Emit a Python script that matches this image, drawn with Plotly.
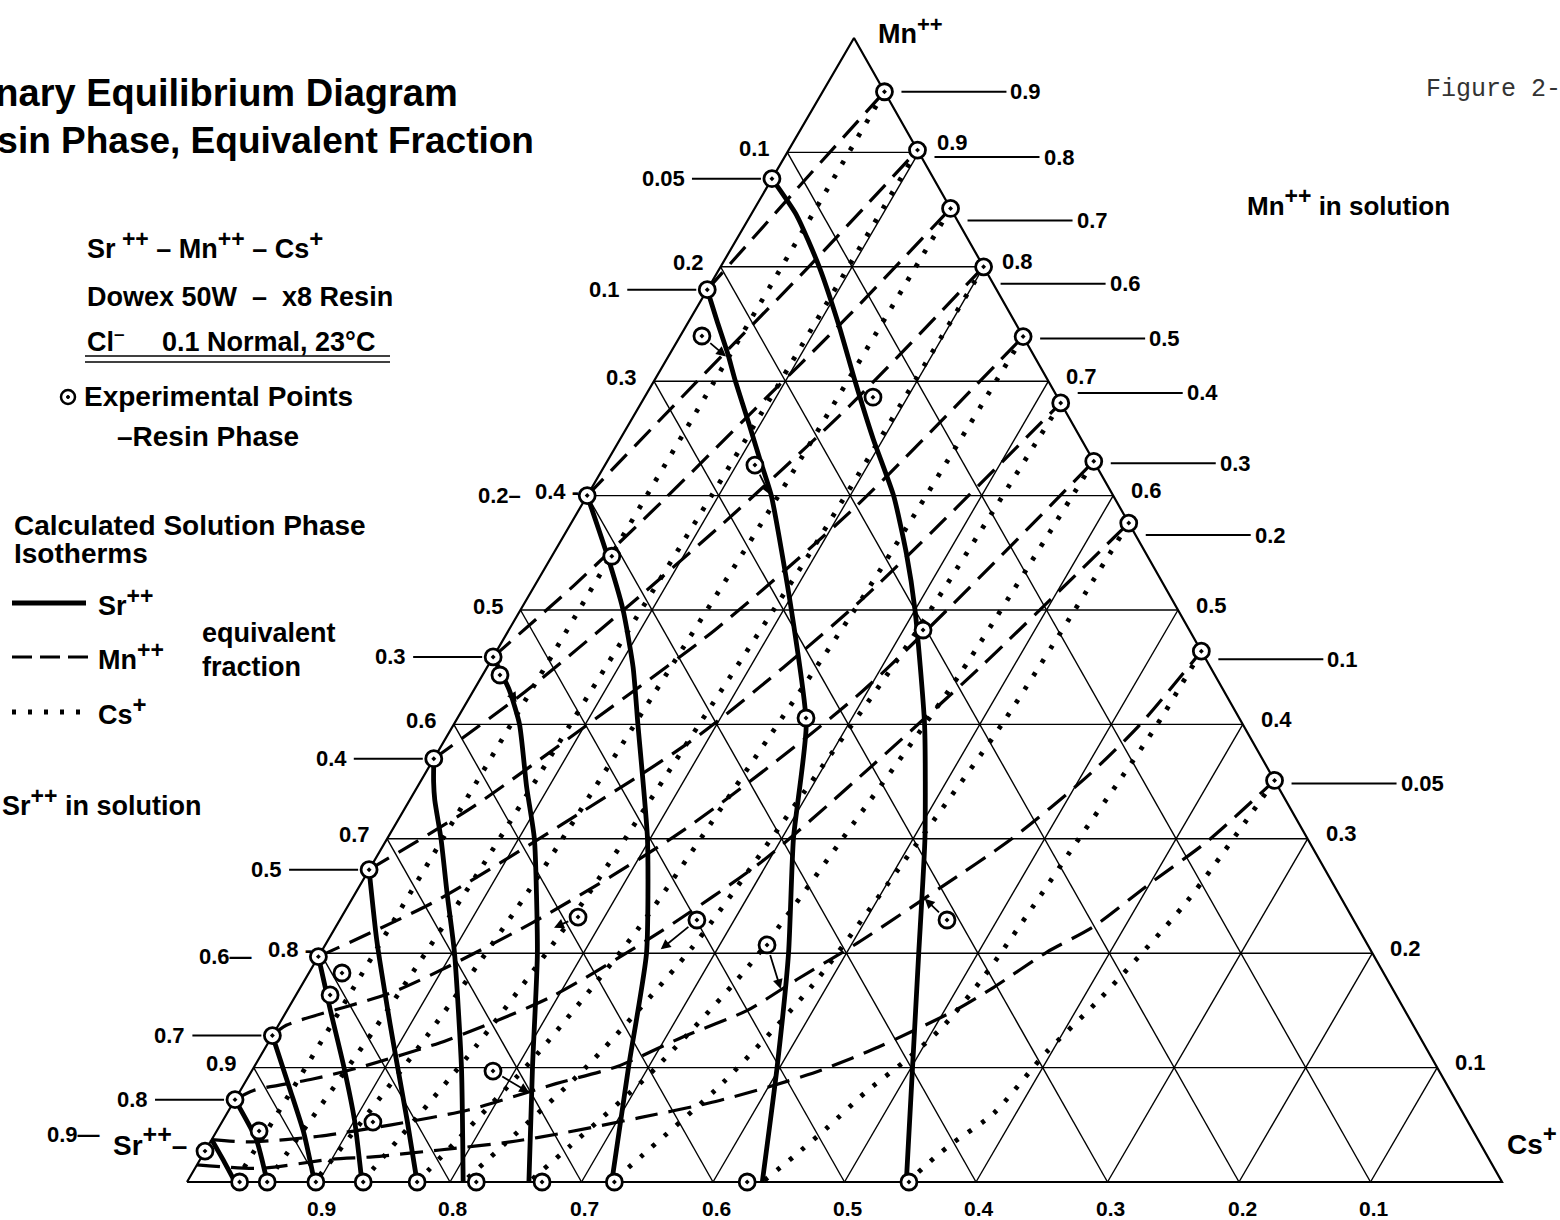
import plotly.graph_objects as go

# ------------------------------------------------------------------
# Resin-phase compositions (equivalent fractions).
# Every point is (Mn, Cs); Sr = 1 - Mn - Cs.
# ------------------------------------------------------------------

# Sr++ solution isotherms (solid)
SR_005 = [(0.877, 0.0), (0.845, 0.035), (0.80, 0.075), (0.75, 0.115), (0.70, 0.153), (0.65, 0.192),
          (0.60, 0.233), (0.55, 0.268), (0.50, 0.300), (0.40, 0.358), (0.30, 0.409), (0.20, 0.455),
          (0.10, 0.501), (0.0, 0.547)]
SR_010 = [(0.78, 0.0), (0.753, 0.021), (0.724, 0.044), (0.70, 0.062), (0.663, 0.091), (0.632, 0.115),
          (0.60, 0.140), (0.50, 0.206), (0.40, 0.268), (0.30, 0.309), (0.20, 0.356), (0.10, 0.398), (0.0, 0.4375)]
SR_020 = [(0.60, 0.0), (0.55, 0.040), (0.50, 0.078), (0.45, 0.111), (0.40, 0.140), (0.30, 0.198),
          (0.20, 0.248), (0.10, 0.285), (0.0, 0.323)]
SR_030 = [(0.459, 0.0), (0.43, 0.027), (0.40, 0.050), (0.3455, 0.083), (0.30, 0.112), (0.20, 0.165),
          (0.10, 0.212), (0.0, 0.260)]
SR_040 = [(0.37, 0.0), (0.35, 0.010), (0.334, 0.019), (0.30, 0.041), (0.252, 0.070), (0.20, 0.102),
          (0.10, 0.158), (0.0, 0.210)]
SR_050 = [(0.273, 0.0), (0.2115, 0.037), (0.1387, 0.084), (0.1038, 0.107), (0.054, 0.140), (0.0, 0.175)]
SR_060 = [(0.197, 0.0), (0.150, 0.033), (0.101, 0.068), (0.054, 0.100), (0.0, 0.133)]
SR_070 = [(0.128, 0.0), (0.080, 0.038), (0.043, 0.067), (0.0, 0.097)]
SR_080 = [(0.072, 0.0), (0.037, 0.034), (0.0, 0.061)]
SR_090 = [(0.037, 0.0), (0.018, 0.019), (0.0, 0.0365)]

# Mn++ solution isotherms (dashed)
MN_090 = [(0.78, 0.0), (0.87, 0.024), (0.953, 0.047)]
MN_080 = [(0.60, 0.0), (0.70, 0.033), (0.80, 0.067), (0.902, 0.098)]
MN_070 = [(0.459, 0.0), (0.522, 0.030), (0.596, 0.060), (0.675, 0.089), (0.757, 0.119), (0.851, 0.149)]
MN_060 = [(0.37, 0.0), (0.429, 0.040), (0.503, 0.080), (0.585, 0.120), (0.679, 0.160), (0.80, 0.200)]
MN_050 = [(0.273, 0.0), (0.329, 0.052), (0.403, 0.104), (0.483, 0.157), (0.590, 0.209), (0.739, 0.261)]
MN_040 = [(0.197, 0.0), (0.245, 0.064), (0.313, 0.127), (0.390, 0.191), (0.507, 0.254), (0.681, 0.319)]
MN_030 = [(0.128, 0.0), (0.137, 0.006), (0.167, 0.074), (0.227, 0.148), (0.308, 0.222), (0.429, 0.296), (0.630, 0.370)]
MN_020 = [(0.072, 0.0), (0.080, 0.010), (0.090, 0.050), (0.100, 0.080), (0.124, 0.135), (0.162, 0.195),
          (0.220, 0.250), (0.280, 0.295), (0.350, 0.330), (0.450, 0.375), (0.576, 0.424)]
MN_010 = [(0.037, 0.0), (0.035, 0.030), (0.040, 0.080), (0.050, 0.130), (0.063, 0.182), (0.086, 0.237),
          (0.101, 0.276), (0.127, 0.313), (0.150, 0.350), (0.177, 0.374), (0.209, 0.404), (0.258, 0.443),
          (0.300, 0.475), (0.355, 0.505), (0.400, 0.522), (0.464, 0.536)]
MN_005 = [(0.015, 0.0), (0.012, 0.050), (0.020, 0.100), (0.022, 0.130), (0.028, 0.178), (0.035, 0.228),
          (0.043, 0.265), (0.056, 0.315), (0.069, 0.362), (0.083, 0.400), (0.098, 0.433), (0.118, 0.466),
          (0.151, 0.509), (0.170, 0.527), (0.201, 0.552), (0.223, 0.576), (0.261, 0.600), (0.298, 0.625),
          (0.351, 0.649)]

# Cs+ solution isotherms (dotted)
CS_010 = [(0.953, 0.047), (0.70, 0.046), (0.45, 0.044), (0.20, 0.041), (0.08, 0.039), (0.0, 0.0365)]
CS_020 = [(0.902, 0.098), (0.63, 0.0953), (0.45, 0.0901), (0.27, 0.0842), (0.135, 0.075), (0.045, 0.0655), (0.0, 0.0606)]
CS_030 = [(0.851, 0.149), (0.596, 0.1454), (0.4255, 0.1386), (0.2553, 0.1308), (0.1277, 0.1178), (0.0426, 0.1043), (0.0, 0.097)]
CS_040 = [(0.80, 0.200), (0.56, 0.1953), (0.40, 0.1866), (0.24, 0.1766), (0.12, 0.1598), (0.04, 0.1424), (0.0, 0.133)]
CS_050 = [(0.739, 0.261), (0.517, 0.255), (0.37, 0.2438), (0.222, 0.2309), (0.111, 0.2094), (0.037, 0.187), (0.0, 0.175)]
CS_060 = [(0.681, 0.319), (0.477, 0.3104), (0.341, 0.2964), (0.205, 0.2802), (0.102, 0.2532), (0.034, 0.2251), (0.0, 0.210)]
CS_070 = [(0.630, 0.370), (0.441, 0.3623), (0.315, 0.348), (0.189, 0.3315), (0.0945, 0.304), (0.0315, 0.2754), (0.0, 0.260)]
CS_080 = [(0.576, 0.424), (0.403, 0.417), (0.288, 0.404), (0.173, 0.3887), (0.0864, 0.3634), (0.0288, 0.3371), (0.0, 0.323)]
CS_090 = [(0.464, 0.536), (0.40, 0.535), (0.35, 0.531), (0.30, 0.526), (0.25, 0.522), (0.18, 0.515), (0.136, 0.506),
          (0.107, 0.493), (0.078, 0.476), (0.048, 0.463), (0.022, 0.450), (0.0, 0.4375)]
CS_095 = [(0.351, 0.649), (0.245, 0.636), (0.16, 0.613), (0.1135, 0.596), (0.06, 0.583), (0.034, 0.565), (0.022, 0.558), (0.0, 0.548)]

# Experimental points on the Sr-Mn binary edge (Cs = 0): resin Mn, labelled by Sr++ in solution
LEFT_PT_LABELS = ["0.05", "0.1", "0.2", "0.3", "0.4", "0.5", "0.6", "0.7", "0.8", "0.9"]
LEFT_PT_MN = [0.877, 0.78, 0.60, 0.459, 0.37, 0.273, 0.197, 0.128, 0.072, 0.027]
# Experimental points on the Mn-Cs binary edge (Sr = 0): resin Mn, labelled by Mn++ in solution
RIGHT_PT_LABELS = ["0.9", "0.8", "0.7", "0.6", "0.5", "0.4", "0.3", "0.2", "0.1", "0.05"]
RIGHT_PT_MN = [0.953, 0.902, 0.851, 0.80, 0.739, 0.681, 0.630, 0.576, 0.464, 0.351]
# Experimental points on the Sr-Cs binary edge (Mn = 0): resin Cs
BOTTOM_PT_CS = [0.040, 0.061, 0.098, 0.134, 0.175, 0.220, 0.270, 0.325, 0.426, 0.549]
# Ternary experimental points (Mn, Cs)
INNER_PT_MN = [0.7395, 0.686, 0.6267, 0.547, 0.4825, 0.4432, 0.4056, 0.2316, 0.229, 0.229, 0.2072, 0.1827, 0.1635, 0.097, 0.0524, 0.0446]
INNER_PT_CS = [0.0165, 0.1737, 0.114, 0.0456, 0.315, 0.0132, 0.265, 0.1799, 0.2716, 0.4618, 0.336, 0.0252, 0.0259, 0.1835, 0.1148, 0.0322]
# Arrows from some experimental points to the matching isotherm point
ARROW_FROM_MN = [0.7395, 0.6267, 0.4432, 0.2316, 0.229, 0.2072, 0.229, 0.097]
ARROW_FROM_CS = [0.0165, 0.114, 0.0132, 0.1799, 0.2716, 0.336, 0.4618, 0.1835]
ARROW_TO_MN = [0.721, 0.6005, 0.4187, 0.222, 0.2028, 0.1678, 0.2483, 0.0778]
ARROW_TO_CS = [0.0448, 0.1388, 0.0386, 0.1658, 0.2568, 0.3666, 0.4345, 0.2214]

# Grid tick labels
GRID_FRAC = [0.1, 0.2, 0.3, 0.4, 0.5, 0.6, 0.7, 0.8, 0.9]
LEFT_TICKS = ["0.9", "0.8 -", "0.7", "0.6", "0.5", "0.4 -", "0.3", "0.2", "0.1"]   # at Mn = 0.1 .. 0.9
RIGHT_TICKS = ["0.1", "0.2", "0.3", "0.4", "0.5", "0.6", "0.7", "0.8", "0.9"]     # at Mn = 0.1 .. 0.9
BOTTOM_TICKS = ["0.9", "0.8", "0.7", "0.6", "0.5", "0.4", "0.3", "0.2", "0.1"]    # at Cs = 0.1 .. 0.9

# ------------------------------------------------------------------
K = 667.0 / 1315.0      # apex offset of the (slightly skewed) printed triangle
W, H = 1560, 1220
FONT = "Liberation Sans, Arial, Helvetica, sans-serif"


def sup(s, size):
    return "<sup><span style='font-size:%dpx'>%s</span></sup>" % (size, s)


def to_xy(pts):
    return [cs + K * mn for mn, cs in pts], [mn for mn, cs in pts]


fig = go.Figure()

# grid
gx, gy = [], []
for f in GRID_FRAC:
    for seg in ([(f, 0.0), (f, 1 - f)], [(0.0, f), (1 - f, f)], [(0.0, 1 - f), (1 - f, 0.0)]):
        xs, ys = to_xy(seg)
        gx += xs + [None]
        gy += ys + [None]
fig.add_trace(go.Scatter(x=gx, y=gy, mode="lines", line=dict(color="black", width=1.4), hoverinfo="skip"))
bx, by = to_xy([(0, 0), (0, 1), (1, 0), (0, 0)])
fig.add_trace(go.Scatter(x=bx, y=by, mode="lines", line=dict(color="black", width=2.2), hoverinfo="skip"))

for c in [CS_010, CS_020, CS_030, CS_040, CS_050, CS_060, CS_070, CS_080, CS_090, CS_095]:
    xs, ys = to_xy(c)
    fig.add_trace(go.Scatter(x=xs, y=ys, mode="lines", line=dict(color="black", width=4.8, dash="4px,12px",
                                                                 shape="spline", smoothing=0.7)))
for c in [MN_090, MN_080, MN_070, MN_060, MN_050, MN_040, MN_030, MN_020, MN_010, MN_005]:
    xs, ys = to_xy(c)
    fig.add_trace(go.Scatter(x=xs, y=ys, mode="lines", line=dict(color="black", width=3.2, dash="23px,11px",
                                                                 shape="spline", smoothing=0.7)))
for c in [SR_005, SR_010, SR_020, SR_030, SR_040, SR_050, SR_060, SR_070, SR_080, SR_090]:
    xs, ys = to_xy(c)
    fig.add_trace(go.Scatter(x=xs, y=ys, mode="lines", line=dict(color="black", width=4.8,
                                                                 shape="spline", smoothing=0.55)))

# experimental points
pts = ([(m, 0.0) for m in LEFT_PT_MN] + [(m, 1 - m) for m in RIGHT_PT_MN] +
       [(0.0, c) for c in BOTTOM_PT_CS] + list(zip(INNER_PT_MN, INNER_PT_CS)))
px_, py_ = to_xy(pts)
fig.add_trace(go.Scatter(x=px_, y=py_, mode="markers",
                         marker=dict(symbol="circle-dot", size=16, color="white",
                                     line=dict(color="black", width=2.8))))

ann = []
shapes = []


def dtxt(text, x, y, xanchor="left", xshift=0, yshift=0, size=22):
    ann.append(dict(text="<b>%s</b>" % text, x=x, y=y, xref="x", yref="y", xanchor=xanchor,
                    yanchor="middle", xshift=xshift, yshift=yshift, showarrow=False,
                    font=dict(size=size, family=FONT, color="black")))


def ptxt(text, x, y, size=27, xanchor="left", family=FONT, color="black", bold=True):
    ann.append(dict(text=("<b>%s</b>" % text) if bold else text, x=x / W, y=1 - y / H,
                    xref="paper", yref="paper", xanchor=xanchor, yanchor="middle", showarrow=False,
                    font=dict(size=size, family=family, color=color)))


def leader(X, Y, x0, x1, dy=0):
    shapes.append(dict(type="line", xref="x", yref="y", xsizemode="pixel", ysizemode="pixel",
                       xanchor=X, yanchor=Y, x0=x0, x1=x1, y0=dy, y1=dy,
                       line=dict(color="black", width=2)))


# left point labels (Sr++ in solution)
for lab, m in zip(LEFT_PT_LABELS, LEFT_PT_MN):
    X, Y = K * m, m
    if lab == "0.2":
        dtxt("0.2–", X, Y, "right", -64)
    elif lab == "0.6":
        dtxt("0.6—", X, Y, "right", -64)
    elif lab == "0.9":
        dtxt("0.9—", X, Y, "right", -103, 17)
    else:
        leader(X, Y, -80, -11)
        dtxt(lab, X, Y, "right", -85)

# right point labels (Mn++ in solution)
RIGHT_NUDGE = [0, -7, -12, -17, -2, 10, -2, -12, -8, -3]
for lab, m, nd in zip(RIGHT_PT_LABELS, RIGHT_PT_MN, RIGHT_NUDGE):
    X, Y = (1 - m) + K * m, m
    leader(X, Y, 17, 122, nd)
    dtxt(lab, X, Y, "left", 124, nd)

# grid tick labels
for f, lt, rt in zip(GRID_FRAC, LEFT_TICKS, RIGHT_TICKS):
    xs = -6 if lt.endswith("-") else -15
    dtxt(lt, K * f, f, "right", xs, 4)
    dtxt(rt, (1 - f) + K * f, f, "left", 16, 10 if f > 0.85 else 5)
for f, bt in zip(GRID_FRAC, BOTTOM_TICKS):
    dtxt(bt, f, 0.0, "center", 3, -26, 21)

# arrows
for fm, fc, tm, tc in zip(ARROW_FROM_MN, ARROW_FROM_CS, ARROW_TO_MN, ARROW_TO_CS):
    ann.append(dict(x=tc + K * tm, y=tm, ax=fc + K * fm, ay=fm, xref="x", yref="y", axref="x", ayref="y",
                    text="", showarrow=True, arrowhead=2, arrowsize=1.1, arrowwidth=1.8,
                    arrowcolor="black", startstandoff=9, standoff=1))

# vertex labels
ptxt("Mn" + sup("++", 22), 876, 30, 27)
ptxt("Cs" + sup("+", 24), 1505, 1140, 28)
ptxt("Sr" + sup("++", 25) + "–", 189, 1140, 28, "right")

# titles and legend text
ptxt("Ternary Equilibrium Diagram", 460, 93, 38, "right")
ptxt("Resin Phase, Equivalent Fraction", 536, 140, 37, "right")
ptxt("Figure 2-", 1424, 90, 25, "left", "Liberation Mono, DejaVu Sans Mono, monospace", "#333333", False)
ptxt("Mn" + sup("++", 23) + " in solution", 1245, 202, 26)
ptxt("Sr" + sup(" ++", 23) + " – Mn" + sup("++", 23) + " – Cs" + sup("+", 24), 85, 245, 27)
ptxt("Dowex 50W  –  x8 Resin", 85, 297, 27)
ptxt("Cl<sup>–</sup>     0.1 Normal, 23°C", 85, 340, 27)
ptxt("Experimental Points", 82, 397, 28)
ptxt("–Resin Phase", 115, 436, 28)
ptxt("Calculated Solution Phase", 12, 525, 28)
ptxt("Isotherms", 12, 553, 28)
ptxt("Sr" + sup("++", 23), 96, 602, 27)
ptxt("Mn" + sup("++", 23), 96, 656, 27)
ptxt("equivalent", 200, 633, 27)
ptxt("fraction", 200, 667, 27)
ptxt("Cs" + sup("+", 24), 96, 710, 27)
ptxt("Sr" + sup("++", 23) + " in solution", 0, 802, 27)


def pshape(kind, x0, y0, x1, y1, **kw):
    d = dict(type=kind, xref="paper", yref="paper", x0=x0 / W, x1=x1 / W, y0=1 - y0 / H, y1=1 - y1 / H)
    d.update(kw)
    shapes.append(d)


pshape("line", 85, 356, 390, 356, line=dict(color="black", width=1.5))
pshape("line", 85, 362, 390, 362, line=dict(color="black", width=1.5))
pshape("circle", 61, 390, 75, 404, line=dict(color="black", width=2.5), fillcolor="white")
pshape("circle", 66.5, 395.5, 69.5, 398.5, line=dict(color="black", width=1), fillcolor="black")
pshape("line", 12, 603, 86, 603, line=dict(color="black", width=5))
pshape("line", 12, 657, 88, 657, line=dict(color="black", width=3, dash="20px,8px"))
pshape("line", 12, 712, 88, 712, line=dict(color="black", width=5, dash="4px,12px"))

fig.update_layout(
    width=W, height=H, margin=dict(l=0, r=0, t=0, b=0),
    paper_bgcolor="white", plot_bgcolor="white", showlegend=False,
    xaxis=dict(range=[-187 / 1315, (W - 187) / 1315], visible=False, fixedrange=True),
    yaxis=dict(range=[-(H - 1182) / 1144, 1182 / 1144], visible=False, fixedrange=True),
    annotations=ann, shapes=shapes,
)

fig.write_html("out.html", config={"displayModeBar": False},
               post_script="document.body.style.margin='0';")
